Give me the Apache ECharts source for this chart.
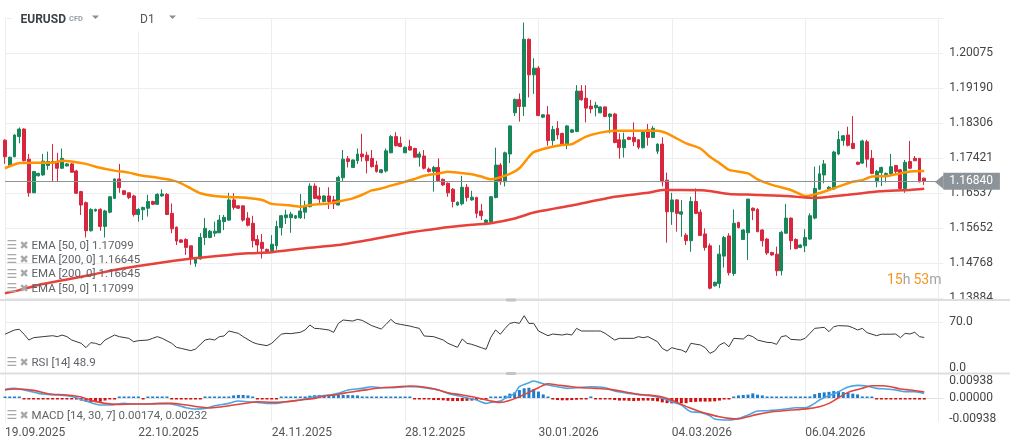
<!DOCTYPE html>
<html><head><meta charset="utf-8">
<script src="https://cdn.jsdelivr.net/npm/echarts@6/dist/echarts.min.js"></script>
<style>html,body{margin:0;padding:0;background:#fff}#c{width:1010px;height:448px}</style>
</head><body><div id="c"></div>
<script>
const xLabels = ['19.09.2025','22.10.2025','24.11.2025','28.12.2025','30.01.2026','04.03.2026','06.04.2026'];
const priceTicks = [1.13884,1.14768,1.15652,1.16537,1.17421,1.18306,1.19190,1.20075];
const rsiTicks = [0, 70];
const macdTicks = [-0.00938, 0, 0.00938];

const open = [
1.1788,1.1724,1.1746,1.1797,1.1816,1.1740,1.1655,1.1698,1.1700,1.1724,
1.1734,1.1734,1.1717,1.1723,1.1728,1.1710,1.1658,1.1630,1.1559,1.1609,
1.1613,1.1570,1.1606,1.1641,1.1690,1.1660,1.1655,1.1647,1.1600,1.1612,
1.1616,1.1633,1.1626,1.1647,1.1651,1.1603,1.1568,1.1536,1.1537,1.1521,
1.1477,1.1488,1.1542,1.1542,1.1553,1.1554,1.1582,1.1586,1.1637,1.1622,
1.1622,1.1591,1.1578,1.1537,1.1530,1.1512,1.1509,1.1521,1.1567,1.1592,
1.1592,1.1591,1.1592,1.1606,1.1620,1.1672,1.1647,1.1633,1.1647,1.1637,
1.1624,1.1693,1.1741,1.1719,1.1736,1.1753,1.1750,1.1742,1.1725,1.1706,
1.1710,1.1756,1.1797,1.1780,1.1756,1.1772,1.1767,1.1745,1.1748,1.1715,
1.1709,1.1719,1.1689,1.1679,1.1664,1.1624,1.1627,1.1669,1.1637,1.1643,
1.1609,1.1580,1.1582,1.1643,1.1725,1.1683,1.1753,1.1857,1.1891,1.1873,
1.2043,1.1953,1.1970,1.1846,1.1852,1.1787,1.1818,1.1805,1.1778,1.1808,
1.1810,1.1912,1.1894,1.1874,1.1870,1.1857,1.1872,1.1848,1.1854,1.1789,
1.1769,1.1795,1.1795,1.1789,1.1769,1.1814,1.1795,1.1760,1.1778,1.1687,
1.1607,1.1637,1.1601,1.1548,1.1534,1.1633,1.1606,1.1551,1.1521,1.1420,
1.1426,1.1495,1.1546,1.1451,1.1580,1.1537,1.1554,1.1616,1.1613,1.1561,
1.1538,1.1504,1.1500,1.1458,1.1553,1.1591,1.1537,1.1517,1.1521,1.1538,
1.1591,1.1664,1.1700,1.1664,1.1665,1.1753,1.1787,1.1801,1.1780,1.1732,
1.1730,1.1784,1.1742,1.1683,1.1706,1.1701,1.1703,1.1724,1.1713,1.1666,
1.1734,1.1742,1.1742,1.1692];
const close = [
1.1746,1.1745,1.1801,1.1816,1.1736,1.1655,1.1709,1.1704,1.1735,1.1734,
1.1730,1.1717,1.1742,1.1728,1.1707,1.1654,1.1624,1.1559,1.1613,1.1613,
1.1570,1.1609,1.1645,1.1690,1.1668,1.1651,1.1643,1.1600,1.1613,1.1618,
1.1633,1.1626,1.1651,1.1652,1.1600,1.1564,1.1533,1.1530,1.1517,1.1490,
1.1488,1.1542,1.1565,1.1558,1.1558,1.1586,1.1593,1.1637,1.1618,1.1616,
1.1586,1.1573,1.1534,1.1523,1.1514,1.1506,1.1525,1.1570,1.1597,1.1599,
1.1601,1.1597,1.1609,1.1620,1.1672,1.1641,1.1639,1.1647,1.1633,1.1627,
1.1694,1.1740,1.1734,1.1738,1.1753,1.1746,1.1736,1.1721,1.1709,1.1713,
1.1761,1.1797,1.1774,1.1772,1.1770,1.1763,1.1745,1.1753,1.1717,1.1709,
1.1719,1.1686,1.1675,1.1655,1.1633,1.1631,1.1669,1.1643,1.1644,1.1603,
1.1597,1.1586,1.1645,1.1725,1.1683,1.1756,1.1824,1.1891,1.1873,1.2043,
1.1953,1.1970,1.1850,1.1852,1.1787,1.1815,1.1801,1.1778,1.1824,1.1814,
1.1912,1.1890,1.1869,1.1867,1.1876,1.1872,1.1848,1.1854,1.1782,1.1769,
1.1789,1.1790,1.1784,1.1770,1.1810,1.1795,1.1818,1.1778,1.1683,1.1607,
1.1637,1.1603,1.1607,1.1534,1.1633,1.1603,1.1547,1.1517,1.1414,1.1429,
1.1500,1.1542,1.1453,1.1578,1.1567,1.1561,1.1639,1.1610,1.1557,1.1534,
1.1503,1.1498,1.1458,1.1555,1.1591,1.1534,1.1514,1.1523,1.1542,1.1597,
1.1666,1.1703,1.1728,1.1669,1.1758,1.1790,1.1799,1.1775,1.1767,1.1727,
1.1786,1.1740,1.1704,1.1709,1.1719,1.1704,1.1721,1.1709,1.1666,1.1732,
1.1717,1.1736,1.1683,1.1684];
const low = [
1.1728,1.1721,1.1745,1.1780,1.1734,1.1645,1.1654,1.1696,1.1698,1.1713,
1.1683,1.1683,1.1715,1.1721,1.1706,1.1652,1.1599,1.1542,1.1557,1.1607,
1.1559,1.1542,1.1603,1.1639,1.1655,1.1649,1.1639,1.1595,1.1582,1.1586,
1.1595,1.1624,1.1624,1.1645,1.1599,1.1553,1.1523,1.1528,1.1498,1.1473,
1.1468,1.1486,1.1523,1.1540,1.1544,1.1553,1.1561,1.1584,1.1612,1.1614,
1.1582,1.1570,1.1517,1.1502,1.1489,1.1504,1.1506,1.1511,1.1547,1.1576,
1.1554,1.1589,1.1589,1.1589,1.1618,1.1639,1.1627,1.1631,1.1614,1.1614,
1.1623,1.1683,1.1719,1.1719,1.1728,1.1734,1.1704,1.1719,1.1706,1.1704,
1.1706,1.1755,1.1772,1.1770,1.1756,1.1762,1.1744,1.1721,1.1714,1.1706,
1.1658,1.1683,1.1672,1.1645,1.1618,1.1622,1.1623,1.1633,1.1635,1.1591,
1.1586,1.1573,1.1580,1.1641,1.1675,1.1671,1.1730,1.1849,1.1835,1.1849,
1.1896,1.1905,1.1849,1.1844,1.1774,1.1774,1.1790,1.1775,1.1765,1.1806,
1.1808,1.1888,1.1833,1.1856,1.1848,1.1856,1.1846,1.1805,1.1780,1.1741,
1.1744,1.1788,1.1773,1.1765,1.1767,1.1774,1.1793,1.1753,1.1671,1.1529,
1.1574,1.1557,1.1544,1.1523,1.1506,1.1601,1.1546,1.1509,1.1411,1.1418,
1.1414,1.1466,1.1446,1.1445,1.1565,1.1536,1.1485,1.1586,1.1555,1.1519,
1.1498,1.1496,1.1445,1.1446,1.1551,1.1511,1.1512,1.1515,1.1505,1.1536,
1.1588,1.1662,1.1679,1.1662,1.1662,1.1750,1.1774,1.1772,1.1765,1.1725,
1.1728,1.1719,1.1702,1.1669,1.1672,1.1681,1.1700,1.1700,1.1662,1.1655,
1.1715,1.1735,1.1681,1.1675];
const high = [
1.1790,1.1746,1.1803,1.1820,1.1818,1.1753,1.1710,1.1706,1.1753,1.1759,
1.1778,1.1756,1.1767,1.1730,1.1730,1.1713,1.1660,1.1633,1.1616,1.1615,
1.1616,1.1612,1.1647,1.1691,1.1728,1.1662,1.1655,1.1650,1.1616,1.1620,
1.1650,1.1635,1.1654,1.1664,1.1654,1.1628,1.1570,1.1538,1.1540,1.1521,
1.1491,1.1553,1.1591,1.1561,1.1582,1.1599,1.1599,1.1655,1.1654,1.1624,
1.1623,1.1606,1.1597,1.1548,1.1551,1.1514,1.1548,1.1584,1.1599,1.1612,
1.1607,1.1599,1.1652,1.1635,1.1679,1.1679,1.1669,1.1649,1.1669,1.1647,
1.1698,1.1763,1.1748,1.1739,1.1767,1.1804,1.1759,1.1763,1.1736,1.1715,
1.1767,1.1801,1.1808,1.1797,1.1772,1.1789,1.1769,1.1759,1.1763,1.1719,
1.1723,1.1742,1.1691,1.1681,1.1667,1.1633,1.1698,1.1677,1.1660,1.1645,
1.1627,1.1588,1.1647,1.1769,1.1730,1.1759,1.1825,1.1893,1.1906,1.2085,
1.2045,1.1995,1.1975,1.1854,1.1874,1.1824,1.1836,1.1807,1.1826,1.1816,
1.1927,1.1927,1.1927,1.1890,1.1885,1.1873,1.1873,1.1856,1.1857,1.1805,
1.1807,1.1797,1.1833,1.1790,1.1811,1.1829,1.1824,1.1780,1.1795,1.1706,
1.1655,1.1639,1.1637,1.1553,1.1645,1.1666,1.1613,1.1565,1.1527,1.1430,
1.1523,1.1546,1.1553,1.1613,1.1582,1.1563,1.1640,1.1618,1.1616,1.1563,
1.1541,1.1506,1.1519,1.1559,1.1627,1.1593,1.1540,1.1525,1.1563,1.1603,
1.1721,1.1724,1.1738,1.1672,1.1761,1.1811,1.1801,1.1822,1.1849,1.1734,
1.1789,1.1789,1.1763,1.1713,1.1721,1.1706,1.1753,1.1725,1.1715,1.1738,
1.1786,1.1748,1.1743,1.1693];

const ema50 = [[0,1.1717],[3,1.1730],[6,1.1731],[10,1.1731],[12,1.1736],[14,1.1734],[17,1.1728],[19,1.1721],[23,1.1711],[26,1.1706],[28,1.1700],[32,1.1693],[35,1.1687],[37,1.1679],[39,1.1666],[41,1.1654],[44,1.1647],[48,1.1644],[51,1.1642],[54,1.1637],[56,1.1627],[60,1.1623],[62,1.1620],[64,1.1624],[68,1.1628],[70,1.1633],[73,1.1641],[75,1.1650],[77,1.1661],[79,1.1666],[81,1.1673],[84,1.1683],[86,1.1690],[88,1.1698],[91,1.1704],[93,1.1708],[95,1.1706],[98,1.1702],[100,1.1696],[102,1.1689],[106,1.1703],[108,1.1717],[110,1.1746],[111,1.1758],[114,1.1769],[117,1.1776],[119,1.1778],[122,1.1797],[125,1.1807],[128,1.1812],[132,1.1812],[137,1.1812],[139,1.1805],[143,1.1780],[146,1.1767],[148,1.1746],[150,1.1730],[152,1.1713],[156,1.1704],[158,1.1689],[161,1.1675],[165,1.1662],[168,1.1647],[170,1.1651],[173,1.1662],[176,1.1675],[178,1.1683],[180,1.1687],[182,1.1696],[185,1.1697],[188,1.1704],[190,1.1709],[193,1.1710]];
const ema200 = [[0,1.1401],[3,1.1409],[7,1.1422],[13,1.1436],[19,1.1450],[23,1.1460],[28,1.1470],[33,1.1479],[38,1.1487],[42,1.1492],[47,1.1498],[51,1.1502],[56,1.1505],[63,1.1515],[70,1.1523],[77,1.1537],[84,1.1553],[91,1.1565],[98,1.1574],[102,1.1578],[107,1.1590],[111,1.1605],[119,1.1623],[128,1.1645],[135,1.1655],[138,1.1662],[142,1.1662],[147,1.1661],[152,1.1652],[157,1.1650],[164,1.1647],[168,1.1643],[170,1.1642],[173,1.1645],[177,1.1650],[180,1.1654],[183,1.1658],[187,1.1661],[190,1.1662],[193,1.1665]];

const rsi = [[0,53.3],[2,59.1],[3,60.0],[4,53.3],[5,45.4],[6,48.6],[8,50.0],[10,51.3],[11,50.0],[12,52.2],[13,50.0],[14,45.4],[16,40.9],[17,35.0],[18,41.8],[19,40.9],[20,38.6],[21,45.4],[23,52.2],[24,50.0],[26,47.7],[27,43.1],[28,44.5],[30,45.4],[31,47.7],[32,50.0],[33,47.7],[35,40.9],[36,35.4],[37,34.0],[39,30.9],[40,33.1],[42,45.4],[43,46.8],[44,45.4],[45,50.0],[46,50.9],[47,57.7],[49,54.5],[50,50.0],[52,42.2],[53,40.0],[55,37.7],[56,40.9],[58,53.3],[59,54.5],[60,54.1],[62,55.9],[63,59.1],[64,65.9],[65,61.3],[66,60.9],[68,59.1],[69,55.9],[70,68.1],[71,72.7],[73,71.3],[74,73.6],[75,72.2],[77,65.0],[79,60.4],[80,66.8],[81,73.6],[82,68.1],[83,66.8],[85,64.5],[86,62.7],[87,61.3],[88,50.9],[90,50.0],[92,45.4],[93,40.9],[95,35.4],[96,46.8],[97,40.9],[98,39.5],[100,35.0],[101,32.7],[102,49.0],[103,59.1],[104,53.3],[105,61.3],[106,68.1],[107,69.5],[108,68.1],[109,78.6],[110,68.1],[111,68.1],[112,57.7],[114,51.3],[115,53.6],[117,52.2],[118,53.6],[119,52.2],[120,61.3],[121,57.7],[124,57.7],[125,57.7],[126,54.5],[128,45.4],[129,47.7],[131,47.7],[132,47.7],[133,50.0],[134,48.6],[135,50.0],[137,43.1],[138,34.0],[139,30.4],[140,35.0],[141,33.1],[142,31.8],[143,28.6],[144,40.9],[146,38.6],[147,35.0],[148,27.2],[149,30.4],[150,38.6],[151,41.8],[152,36.3],[153,47.7],[155,46.8],[156,52.2],[157,50.0],[158,45.4],[160,42.2],[161,41.8],[162,39.5],[163,50.0],[164,51.3],[165,46.3],[167,45.4],[168,47.7],[169,54.5],[170,61.3],[171,62.0],[172,62.7],[173,56.8],[174,63.6],[175,65.0],[177,64.5],[178,62.2],[179,59.1],[180,61.3],[181,55.4],[183,51.3],[184,53.3],[186,53.3],[187,53.6],[188,48.6],[189,54.5],[190,53.6],[191,55.9],[192,50.0],[193,48.9]];

const macdLine = [[0,0.00338],[2,0.00377],[5,0.00272],[7,0.00181],[9,0.00142],[11,0.00116],[13,0.00090],[15,0.00012],[17,-0.00118],[20,-0.00275],[22,-0.00275],[25,-0.00210],[27,-0.00236],[29,-0.00236],[32,-0.00210],[34,-0.00210],[36,-0.00275],[38,-0.00379],[40,-0.00431],[42,-0.00405],[44,-0.00301],[47,-0.00210],[49,-0.00118],[51,-0.00145],[53,-0.00171],[55,-0.00210],[57,-0.00210],[59,-0.00145],[62,-0.00079],[65,0.00051],[68,0.00116],[70,0.00181],[72,0.00312],[75,0.00377],[77,0.00442],[79,0.00403],[81,0.00403],[84,0.00442],[86,0.00442],[89,0.00377],[91,0.00312],[93,0.00181],[96,0.00051],[99,-0.00079],[101,-0.00210],[102,-0.00171],[104,-0.00118],[105,-0.00014],[107,0.00181],[108,0.00442],[110,0.00598],[111,0.00663],[112,0.00611],[114,0.00507],[116,0.00442],[118,0.00377],[120,0.00403],[123,0.00442],[126,0.00403],[128,0.00272],[131,0.00181],[134,0.00116],[136,0.00077],[138,-0.00014],[140,-0.00145],[142,-0.00275],[144,-0.00535],[146,-0.00562],[148,-0.00692],[149,-0.00822],[152,-0.00861],[154,-0.00796],[156,-0.00666],[158,-0.00509],[160,-0.00496],[162,-0.00470],[164,-0.00431],[166,-0.00379],[168,-0.00379],[170,-0.00210],[171,-0.00079],[173,0.00090],[175,0.00247],[177,0.00429],[179,0.00494],[181,0.00468],[183,0.00377],[185,0.00351],[187,0.00312],[189,0.00247],[191,0.00247],[193,0.00174]];
const signalLine = [[0,0.00312],[2,0.00351],[6,0.00299],[9,0.00169],[13,0.00116],[16,0.00038],[18,-0.00092],[21,-0.00210],[24,-0.00249],[27,-0.00236],[30,-0.00236],[32,-0.00223],[35,-0.00210],[38,-0.00275],[41,-0.00353],[43,-0.00390],[45,-0.00353],[48,-0.00275],[51,-0.00197],[53,-0.00145],[56,-0.00171],[59,-0.00145],[62,-0.00079],[65,-0.00014],[67,0.00077],[69,0.00116],[71,0.00181],[74,0.00272],[77,0.00351],[79,0.00403],[82,0.00429],[85,0.00468],[88,0.00429],[91,0.00312],[93,0.00207],[96,0.00116],[99,0.00012],[102,-0.00118],[104,-0.00171],[106,-0.00092],[108,0.00051],[110,0.00220],[112,0.00403],[114,0.00559],[116,0.00507],[119,0.00442],[121,0.00403],[124,0.00377],[127,0.00338],[130,0.00247],[133,0.00142],[135,0.00116],[138,0.00040],[140,-0.00079],[142,-0.00249],[144,-0.00405],[146,-0.00535],[148,-0.00640],[150,-0.00731],[152,-0.00796],[154,-0.00822],[156,-0.00731],[158,-0.00640],[161,-0.00535],[163,-0.00509],[165,-0.00470],[167,-0.00444],[169,-0.00405],[171,-0.00340],[173,-0.00210],[175,0.00012],[177,0.00220],[180,0.00377],[182,0.00481],[184,0.00481],[186,0.00442],[188,0.00351],[190,0.00312],[193,0.00232]];
const macdHist = [
0.0003,0.0003,0.0003,0.0002,
-0.0003,-0.0004,-0.0005,-0.0005,-0.0005,-0.0005,-0.0005,-0.0005,-0.0005,-0.0004,-0.0005,-0.0006,
-0.0010,-0.0014,-0.0017,-0.0016,-0.0015,-0.0010,
-0.0005,-0.0003,
0.0001,0.0003,0.0003,
0.0001,0.0001,-0.0001,0.0001,0.0001,
0.0003,0.0003,0.0002,
-0.0001,
-0.0005,-0.0006,-0.0006,-0.0006,-0.0005,
-0.0001,0.0000,0.0001,
0.0003,0.0004,0.0005,0.0005,
0.0010,0.0012,0.0012,0.0010,
0.0004,
-0.0002,-0.0004,-0.0004,-0.0004,-0.0002,
0.0003,0.0004,0.0005,0.0005,0.0005,0.0006,
0.0009,0.0011,0.0012,0.0012,0.0012,0.0012,0.0012,
0.0012,0.0012,0.0011,0.0010,
0.0006,0.0005,0.0004,
0.0001,0.0000,0.0001,
0.0003,0.0003,0.0003,0.0002,
0.0000,-0.0001,
-0.0003,-0.0003,
-0.0006,-0.0008,-0.0008,-0.0009,
-0.0011,-0.0012,-0.0012,-0.0012,-0.0011,-0.0010,
-0.0008,-0.0006,-0.0003,
0.0000,0.0001,
0.0006,0.0009,0.0017,0.0022,0.0031,0.0038,0.0040,0.0035,0.0025,0.0014,0.0002,
-0.0006,-0.0008,-0.0009,-0.0009,-0.0008,-0.0007,-0.0005,
-0.0001,0.0000,-0.0001,-0.0003,
-0.0005,-0.0006,-0.0008,-0.0010,-0.0010,-0.0011,-0.0012,-0.0011,-0.0010,-0.0010,-0.0011,-0.0013,
-0.0017,-0.0020,-0.0021,-0.0021,-0.0021,-0.0020,
-0.0016,-0.0015,-0.0014,-0.0014,-0.0014,-0.0013,-0.0010,
-0.0005,-0.0003,
0.0003,
0.0010,0.0012,0.0013,
0.0018,
0.0013,0.0010,
0.0006,0.0004,
0.0001,0.0000,
0.0003,0.0004,0.0005,0.0005,0.0005,0.0006,
0.0015,0.0020,0.0022,0.0024,
0.0027,0.0027,
0.0023,0.0020,0.0017,0.0014,
0.0006,0.0004,0.0001,
-0.0002,-0.0003,-0.0004,-0.0004,-0.0004,-0.0004,-0.0005,-0.0005,-0.0005,-0.0006,-0.0006];

const legendEMA = ['EMA [50, 0] 1.17099','EMA [200, 0] 1.16645','EMA [200, 0] 1.16645','EMA [50, 0] 1.17099'];
const legendRSI = 'RSI [14] 48.9';
const legendMACD = 'MACD [14, 30, 7] 0.00174, 0.00232';

const UP = '#16875a', DOWN = '#d7263d';
const FONT = 'Roboto, "Noto Sans", sans-serif';
const N_SLOTS = 198;
const slots = Array.from({length: N_SLOTS}, (_, i) => String(i));
const candles = open.map((o, i) => [o, close[i], low[i], high[i]]);
const lastPrice = close[close.length - 1];

function near(list, v, tol) { return list.find(t => Math.abs(t - v) < tol); }

const L = 5, R = 66.7;
function xAxis(gi, showLabels) {
  return {
    type: 'category', gridIndex: gi, data: slots, boundaryGap: false,
    axisLine: {show: gi === 2, lineStyle: {color: '#e3e3e3', width: 1}},
    axisTick: {show: false},
    axisLabel: {show: showLabels, interval: 27, align: 'left', color: '#555', fontSize: 12, fontFamily: FONT, margin: 5,
      formatter: (v, idx) => (xLabels[idx / 28] || '')},
    splitLine: {show: true, interval: 27, lineStyle: {color: '#eeeeee', width: 1}}
  };
}
const yLabelBase = {color: '#444', fontSize: 12, fontFamily: FONT, margin: 6, align: 'left'};
const VA = {textVerticalAlign: 'middle', verticalAlign: 'middle'};

const graphic = [
  {type: 'rect', shape: {x: 12, y: 0, width: 185, height: 31}, style: {fill: '#fff'}, z: 50},
  {type: 'text', x: 20.5, y: 20, z: 51, style: Object.assign({text: 'EURUSD', font: 'bold 12px Roboto', fill: '#3c4146'}, VA)},
  {type: 'text', x: 69, y: 19, z: 51, style: Object.assign({text: 'CFD', font: 'bold 7.5px Roboto', fill: '#9aa0a6'}, VA)},
  {type: 'polygon', z: 51, shape: {points: [[92, 15.5], [99, 15.5], [95.5, 19]]}, style: {fill: '#8a8f94'}},
  {type: 'text', x: 140, y: 20, z: 51, style: Object.assign({text: 'D1', font: '12px Roboto', fill: '#555'}, VA)},
  {type: 'polygon', z: 51, shape: {points: [[169, 15.5], [176, 15.5], [172.5, 19]]}, style: {fill: '#8a8f94'}},
  {type: 'line', z: 40, shape: {x1: 0, y1: 300, x2: 1010, y2: 300}, style: {stroke: '#dedede', lineWidth: 2}},
  {type: 'line', z: 40, shape: {x1: 0, y1: 373.5, x2: 1010, y2: 373.5}, style: {stroke: '#dedede', lineWidth: 2}},
  {type: 'rect', z: 41, shape: {x: 506, y: 298.5, width: 10, height: 3, r: 1}, style: {fill: '#c4c4c4'}},
  {type: 'rect', z: 41, shape: {x: 506, y: 372, width: 10, height: 3, r: 1}, style: {fill: '#c4c4c4'}},
  {type: 'polygon', z: 60, shape: {points: [[935, 182], [943.5, 175], [943.5, 189]]}, style: {fill: '#8d9499'}},
  {type: 'text', x: 887, y: 280, z: 51, style: Object.assign({text: '15', font: '14px Roboto', fill: '#f7941d'}, VA)},
  {type: 'text', x: 902.7, y: 280, z: 51, style: Object.assign({text: 'h', font: '14px Roboto', fill: '#a3a3a3'}, VA)},
  {type: 'text', x: 913.5, y: 280, z: 51, style: Object.assign({text: '53', font: '14px Roboto', fill: '#f7941d'}, VA)},
  {type: 'text', x: 929.3, y: 280, z: 51, style: Object.assign({text: 'm', font: '14px Roboto', fill: '#a3a3a3'}, VA)}
];
function legendRow(text, y) {
  graphic.push({type: 'text', x: 6.5, y: y, z: 51, style: Object.assign({text: '☰', font: '12px "DejaVu Sans"', fill: '#a9a9a9'}, VA)});
  graphic.push({type: 'text', x: 19.5, y: y, z: 51, style: Object.assign({text: '✖', font: '11px "DejaVu Sans"', fill: '#a9a9a9'}, VA)});
  graphic.push({type: 'text', x: 31.5, y: y, z: 51, style: Object.assign({text: text, font: '11.5px Roboto', fill: '#5f6368'}, VA)});
}
legendEMA.forEach((t, k) => legendRow(t, 245.8 + k * 14.3));
legendRow(legendRSI, 362.7);
legendRow(legendMACD, 416);

const option = {
  animation: false,
  backgroundColor: '#ffffff',
  textStyle: {fontFamily: FONT},
  grid: [
    {left: L, right: R, top: 18.3, height: 280},
    {left: L, right: R, top: 300, height: 73.3},
    {left: L, right: R, top: 374, height: 48}
  ],
  xAxis: [xAxis(0, false), xAxis(1, false), xAxis(2, true)],
  yAxis: [
    {type: 'value', gridIndex: 0, position: 'right', min: 1.13884, max: 1.20959, interval: 0.0088443,
      axisLine: {show: false}, axisTick: {show: false},
      axisLabel: Object.assign({}, yLabelBase, {formatter: v => { const t = near(priceTicks, v, 0.0001); return t === undefined || v > 1.205 ? '' : t.toFixed(5); }}),
      splitLine: {show: true, lineStyle: {color: '#eeeeee'}}},
    {type: 'value', gridIndex: 1, position: 'right', min: 0, max: 100, interval: 70,
      axisLine: {show: false}, axisTick: {show: false},
      axisLabel: Object.assign({}, yLabelBase, {
        formatter: v => { const t = near(rsiTicks, v, 0.5); if (t === undefined) return ''; return t === 0 ? '{b|' + t.toFixed(1) + '}' : t.toFixed(1); },
        rich: {b: {padding: [0, 0, 11, 0], fontSize: 12, color: '#444', fontFamily: FONT}}}),
      splitLine: {show: true, lineStyle: {color: '#eeeeee'}}},
    {type: 'value', gridIndex: 2, position: 'right', min: -0.00938, max: 0.00938, interval: 0.00938,
      axisLine: {show: false}, axisTick: {show: false},
      axisLabel: Object.assign({}, yLabelBase, {
        formatter: v => { const t = near(macdTicks, v, 0.0005); if (t === undefined) return '';
          if (t > 0) return '{t|' + t.toFixed(5) + '}'; if (t < 0) return '{b|' + t.toFixed(5) + '}'; return t.toFixed(5); },
        rich: {t: {padding: [14, 0, 0, 0], fontSize: 12, color: '#444', fontFamily: FONT},
               b: {padding: [0, 0, 6, 0], fontSize: 12, color: '#444', fontFamily: FONT}}}),
      splitLine: {show: false}}
  ],
  graphic: graphic,
  series: [
    {type: 'candlestick', xAxisIndex: 0, yAxisIndex: 0, data: candles, barWidth: 3.4, clip: false,
      itemStyle: {color: UP, color0: DOWN, borderColor: UP, borderColor0: DOWN, borderWidth: 1},
      markLine: {silent: true, symbol: ['none', 'none'], animation: false, precision: 5,
        data: [{yAxis: lastPrice}],
        lineStyle: {color: '#8d9499', width: 1, type: 'solid'},
        label: {show: true, position: 'end', distance: 0, formatter: p => Number(p.value).toFixed(5),
          backgroundColor: '#8d9499', color: '#ffffff', fontSize: 12, fontFamily: FONT, padding: [3, 7, 2, 6]}}},
    {type: 'line', name: 'EMA50', xAxisIndex: 0, yAxisIndex: 0, data: ema50, showSymbol: false, smooth: 0.2,
      lineStyle: {color: '#ff9200', width: 2.5}, z: 3},
    {type: 'line', name: 'EMA200', xAxisIndex: 0, yAxisIndex: 0, data: ema200, showSymbol: false, smooth: 0.2,
      lineStyle: {color: '#e8403a', width: 2.5}, z: 3},
    {type: 'line', name: 'RSI', xAxisIndex: 1, yAxisIndex: 1, data: rsi, showSymbol: false,
      lineStyle: {color: '#3a3a3a', width: 1}},
    {type: 'bar', name: 'Hist', xAxisIndex: 2, yAxisIndex: 2, data: macdHist, barWidth: 3, barMinHeight: 1.5,
      itemStyle: {color: p => (p.value >= 0 ? '#1d7ccc' : '#d40f0f')}},
    {type: 'line', name: 'MACD', xAxisIndex: 2, yAxisIndex: 2, data: macdLine, showSymbol: false, smooth: 0.3,
      lineStyle: {color: '#4aa5e3', width: 1.6}, z: 4},
    {type: 'line', name: 'Signal', xAxisIndex: 2, yAxisIndex: 2, data: signalLine, showSymbol: false, smooth: 0.3,
      lineStyle: {color: '#e0443c', width: 1.6}, z: 4}
  ]
};
const chart = echarts.init(document.getElementById('c'), null, {renderer: 'canvas'});
chart.setOption(option);
</script>
</body></html>
